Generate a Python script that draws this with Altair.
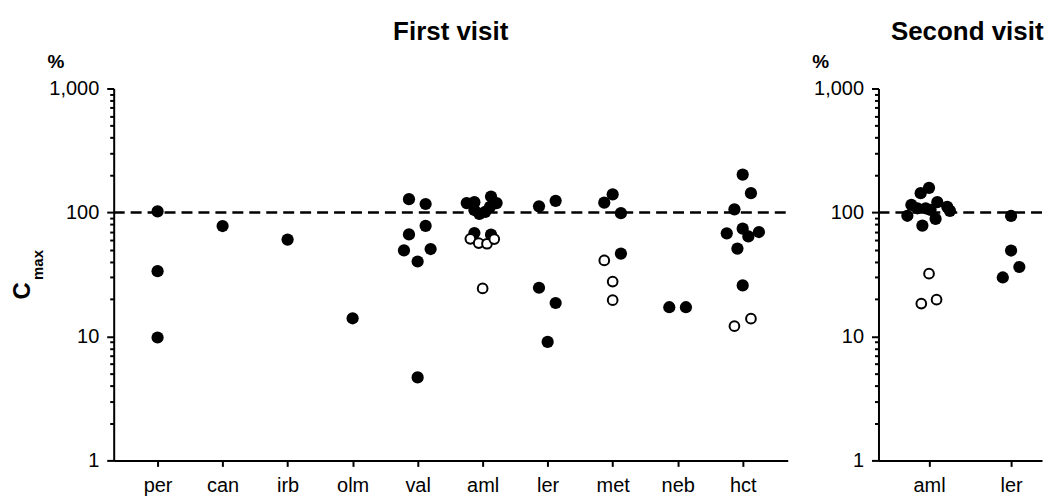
import json
import altair as alt
import pandas as pd

# ---------------- data ----------------
FIRST_CATS = ["per", "can", "irb", "olm", "val", "aml", "ler", "met", "neb", "hct"]
SECOND_CATS = ["aml", "ler"]

f_cat = (["per"] * 3 + ["can", "irb", "olm"] + ["val"] * 8 + ["aml"] * 15 +
         ["ler"] * 5 + ["met"] * 7 + ["neb"] * 2 + ["hct"] * 11)
f_val = [102, 33.6, 9.8, 77.7, 60.4, 14.0,
         128, 117, 78, 66.5, 49.5, 50.7, 40.2, 4.67,
         119, 121, 134.5, 119, 104.6, 97.3, 101, 111, 68.2, 66.2,
         61.3, 56.6, 55.9, 61, 24.4,
         112, 124, 24.7, 18.6, 9.03,
         120, 140, 98.7, 46.6, 41, 27.7, 19.6,
         17.2, 17.2,
         202, 143, 106, 67.8, 74, 64.1, 69.5, 51.1, 25.8, 12.1, 13.9]
f_dx = [0, 0, 0, 0, 0, 0,
        -0.133, 0.123, 0.123, -0.133, -0.21, 0.2, 0, 0,
        -0.245, -0.127, 0.129, 0.215, -0.127, -0.05, 0.04, 0.113, -0.127, 0.129,
        -0.189, -0.061, 0.067, 0.179, 0,
        -0.133, 0.123, -0.133, 0.123, 0,
        -0.129, 0, 0.127, 0.127, -0.129, 0, 0,
        -0.129, 0.127,
        0, 0.127, -0.127, -0.245, 0, 0.087, 0.25, -0.081, 0, -0.127, 0.127]
f_open = ([0] * 6 + [0] * 8 + [0] * 10 + [1] * 5 + [0] * 5 +
          [0] * 4 + [1] * 3 + [0] * 2 + [0] * 9 + [1] * 2)

s_cat = ["aml"] * 15 + ["ler"] * 4
s_val = [94, 115, 143, 158, 108, 108, 105, 121, 111, 103, 88.7, 78.3,
         32.1, 18.4, 19.8,
         93.7, 49.3, 36.3, 29.9]
s_dx = [-0.264, -0.215, -0.102, 0, -0.142, -0.041, 0.019, 0.101, 0.222, 0.255, 0.08, -0.081,
        0, -0.094, 0.092,
        0, 0, 0.101, -0.101]
s_open = [0] * 12 + [1] * 3 + [0] * 4

Y_TICKS = [1, 2, 3, 4, 5, 6, 7, 8, 9,
           10, 20, 30, 40, 50, 60, 70, 80, 90,
           100, 200, 300, 400, 500, 600, 700, 800, 900, 1000]
Y_MAJOR = [1, 10, 100, 1000]
REF_LINE = [100]

FONT = "Liberation Sans"
H = 373


def panel(cats, catlist, vals, dxs, opens, width, dom, title, title_dx, with_cmax):
    df = pd.DataFrame({"cat": catlist, "v": vals, "dx": dxs, "open": opens})
    df["x"] = [cats.index(c) + d for c, d in zip(catlist, dxs)]

    yscale = alt.Scale(type="log", domain=[1, 1000], nice=False)
    xscale = alt.Scale(domain=dom, nice=False, zero=False)

    major = json.dumps(Y_MAJOR)
    yaxis = alt.Axis(
        values=Y_TICKS, format=",",
        labelExpr=f"indexof({major}, datum.value) >= 0 ? datum.label : ''",
        tickSize={"condition": {"test": f"indexof({major}, datum.value) >= 0", "value": 7}, "value": 4},
        tickWidth=2, tickColor="black", domainWidth=2, domainColor="black",
        labelFontSize=20, labelColor="black", labelPadding=8, grid=False,
        title="%", titleAngle=0, titleAlign="left", titleBaseline="middle",
        titleX=-67, titleY=-27, titleFontSize=19, titleFontWeight="bold",
    )
    xaxis = alt.Axis(
        values=list(range(len(cats))),
        labelExpr=f"{json.dumps(cats)}[round(datum.value)]",
        tickSize=6, tickWidth=2, tickColor="black", domainWidth=2, domainColor="black",
        labelFontSize=20, labelColor="black", labelPadding=9, grid=False, title=None,
    )
    y_enc = alt.Y("v:Q", scale=yscale, axis=yaxis)
    x_enc = alt.X("x:Q", scale=xscale, axis=xaxis)

    rule = alt.Chart(pd.DataFrame({"v": REF_LINE})).mark_rule(
        color="black", strokeWidth=2.5, strokeDash=[11, 6]
    ).encode(y=y_enc, x=alt.value(0), x2=alt.value(width))

    filled = alt.Chart(df[df["open"] == 0]).mark_point(
        shape="circle", filled=True, color="black", size=150, opacity=1
    ).encode(x=x_enc, y=y_enc)

    hollow = alt.Chart(df[df["open"] == 1]).mark_point(
        shape="circle", filled=True, fill="white", stroke="black", strokeWidth=2,
        size=95, opacity=1
    ).encode(x=x_enc, y=y_enc)

    layers = [rule, filled, hollow]
    if with_cmax:
        c_txt = alt.Chart(pd.DataFrame({"t": ["C"]})).mark_text(
            font=FONT, fontSize=24, fontWeight="bold", angle=270,
            align="center", baseline="middle", color="black"
        ).encode(text="t:N", x=alt.value(-91), y=alt.value(203))
        m_txt = alt.Chart(pd.DataFrame({"t": ["max"]})).mark_text(
            font=FONT, fontSize=15, fontWeight="bold", angle=270,
            align="center", baseline="middle", color="black"
        ).encode(text="t:N", x=alt.value(-76), y=alt.value(177))
        layers += [c_txt, m_txt]

    return alt.layer(*layers).properties(
        width=width, height=H,
        title=alt.TitleParams(title, fontSize=26, fontWeight="bold", font=FONT,
                              anchor="middle", dx=title_dx, offset=8, color="black"),
    )


left = panel(FIRST_CATS, f_cat, f_val, f_dx, f_open, 676, [-0.675, 9.693],
             "First visit", 0, True)
right = panel(SECOND_CATS, s_cat, s_val, s_dx, s_open, 164, [-0.616, 1.377],
              "Second visit", 7, False)

chart = alt.hconcat(left, right, spacing=22).properties(
    padding={"left": 3, "top": 10, "right": 0, "bottom": 0}
).configure(font=FONT).configure_view(stroke=None)

chart.save("out.html", embed_options={"renderer": "svg", "actions": False})
